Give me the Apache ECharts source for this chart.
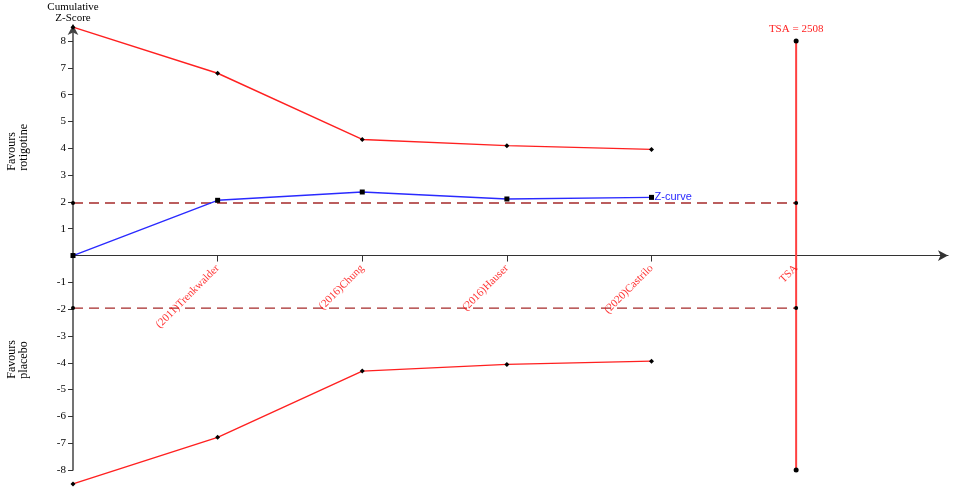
<!DOCTYPE html>
<html>
<head>
<meta charset="utf-8">
<script src="https://cdn.jsdelivr.net/npm/echarts@6/dist/echarts.min.js"></script>
<style>
  html, body { margin: 0; padding: 0; background: #fff; }
  #myChart { width: 957px; height: 490px; }
</style>
</head>
<body>
<div id="myChart"></div>
<script>
// trials along the x axis, last one is the TSA position
var studies = ['', '(2011)Trenkwalder', '(2016)Chung', '(2016)Hauser', '(2020)Castrilo', 'TSA'];
var zCurve = [0, 2.06, 2.37, 2.11, 2.17];
var upperBound = [8.52, 6.8, 4.33, 4.1, 3.96];
var lowerBound = [-8.52, -6.78, -4.31, -4.06, -3.94];
var conventional = 1.96;
var tsaPos = 5;
var tsaSize = 2508;
var tsaLimit = 8;
var yTicks = [-8, -7, -6, -5, -4, -3, -2, -1, 1, 2, 3, 4, 5, 6, 7, 8];

var font = '"Liberation Serif", "Times New Roman", serif';

function pairs(arr) {
    return arr.map(function (v, i) { return [i, v]; });
}

var myChart = echarts.init(document.getElementById('myChart'));

var option = {
    animation: false,
    textStyle: { fontFamily: font },
    grid: { left: 73, right: 9, top: 25, bottom: 20, containLabel: false, outerBoundsMode: 'none' },
    xAxis: {
        type: 'value',
        min: 0,
        max: 6.05,
        interval: 1,
        splitLine: { show: false },
        axisLine: {
            onZero: true,
            symbol: ['none', 'arrow'],
            symbolSize: [8, 10],
            lineStyle: { color: '#333', width: 1.2 }
        },
        axisTick: {
            customValues: [1, 2, 3, 4],
            length: 6,
            lineStyle: { color: '#333' }
        },
        axisLabel: { show: false }
    },
    yAxis: {
        type: 'value',
        min: -8,
        max: 8.6,
        interval: 1,
        name: 'Cumulative\nZ-Score',
        nameLocation: 'end',
        nameGap: 1,
        nameTextStyle: { color: '#000', fontSize: 11, fontFamily: font, align: 'center', lineHeight: 11 },
        splitLine: { show: false },
        axisLine: {
            symbol: ['none', 'arrow'],
            symbolSize: [8, 10],
            lineStyle: { color: '#444', width: 1.5 }
        },
        axisTick: { customValues: yTicks, length: 5, lineStyle: { color: '#333' } },
        axisLabel: { customValues: yTicks, color: '#000', fontSize: 11, fontFamily: font, margin: 7 }
    },
    series: [
        {
            // study names under the x axis, rotated like axis labels
            type: 'scatter',
            data: studies.slice(1).map(function (s, i) { return [i + 1, 0]; }),
            symbolSize: 0,
            silent: true,
            label: {
                show: true,
                position: [0, 11],
                align: 'right',
                verticalAlign: 'middle',
                rotate: 45,
                color: '#ff0000',
                fontSize: 11,
                fontFamily: font,
                formatter: function (p) { return studies[p.dataIndex + 1]; }
            },
            z: 5
        },
        {
            type: 'line',
            data: [[tsaPos, tsaLimit], [tsaPos, -tsaLimit]],
            lineStyle: { color: '#ff4040', width: 2 },
            symbol: 'circle', symbolSize: 5,
            itemStyle: { color: '#000' },
            label: {
                show: true,
                position: 'top',
                distance: 4,
                color: '#ff2020',
                fontSize: 11,
                fontFamily: font,
                formatter: function (p) { return p.dataIndex === 0 ? 'TSA = ' + tsaSize : ''; }
            },
            z: 2
        },
        {
            type: 'line',
            data: [[0, conventional], [tsaPos, conventional]],
            lineStyle: { color: '#a52a2a', width: 1.3, type: [10, 6] },
            symbol: 'circle', symbolSize: 4,
            itemStyle: { color: '#000' },
            z: 3
        },
        {
            type: 'line',
            data: [[0, -conventional], [tsaPos, -conventional]],
            lineStyle: { color: '#a52a2a', width: 1.3, type: [10, 6] },
            symbol: 'circle', symbolSize: 4,
            itemStyle: { color: '#000' },
            z: 3
        },
        {
            type: 'line',
            data: pairs(upperBound),
            clip: false,
            lineStyle: { color: '#ff2020', width: 1.4 },
            symbol: 'diamond', symbolSize: 5,
            itemStyle: { color: '#000' },
            z: 4
        },
        {
            type: 'line',
            data: pairs(lowerBound),
            clip: false,
            lineStyle: { color: '#ff2020', width: 1.4 },
            symbol: 'diamond', symbolSize: 5,
            itemStyle: { color: '#000' },
            z: 4
        },
        {
            type: 'line',
            data: pairs(zCurve),
            lineStyle: { color: '#2a2aff', width: 1.4 },
            symbol: 'rect', symbolSize: 5,
            itemStyle: { color: '#000' },
            endLabel: {
                show: true,
                formatter: 'Z-curve',
                color: '#2a2aff',
                fontSize: 11,
                fontFamily: '"Liberation Sans", Arial, sans-serif',
                distance: 3
            },
            z: 4
        }
    ],
    graphic: [
        {
            type: 'text', left: 6, top: 124, rotation: Math.PI / 2,
            style: { text: 'Favours\nrotigotine', font: '12px ' + font, fill: '#000', align: 'center', lineHeight: 12 }
        },
        {
            type: 'text', left: 6, top: 340, rotation: Math.PI / 2,
            style: { text: 'Favours\nplacebo', font: '12px ' + font, fill: '#000', align: 'center', lineHeight: 12 }
        }
    ]
};

myChart.setOption(option);

window.onresize = function () {
    myChart.resize();
};
</script>
</body>
</html>
